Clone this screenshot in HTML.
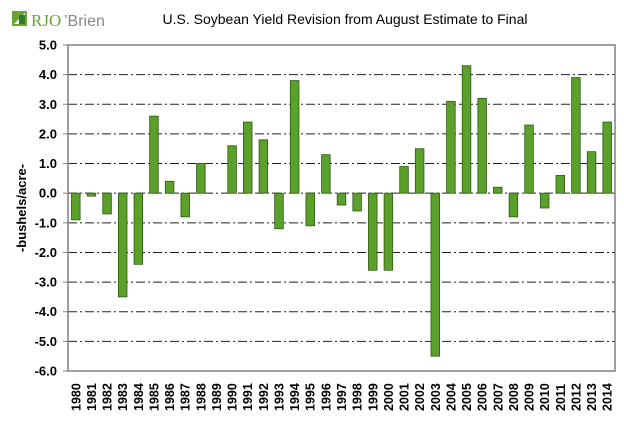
<!DOCTYPE html>
<html><head><meta charset="utf-8"><style>
body{margin:0;background:#fff;}
svg{display:block;font-family:"Liberation Sans",Arial,sans-serif;}
</style></head><body>
<svg id="c" width="624" height="426">
<g>
<rect x="12" y="11" width="15" height="15" fill="#6aa533"/>
<polygon points="14,24 25,13 25,24" fill="#fff"/>
<rect x="19" y="15" width="6" height="9" fill="#2f7a2f"/>
<text x="31" y="26" font-size="17" fill="#6aa533" font-family="Liberation Serif, serif">RJO</text>
<text x="64" y="26" font-size="16" fill="#888">’Brien</text>
</g>
<text x="345" y="24" font-size="14" text-anchor="middle" fill="#000">U.S. Soybean Yield Revision from August Estimate to Final</text>
<text transform="translate(26,208) rotate(-90)" font-size="13" font-weight="bold" text-anchor="middle">-bushels/acre-</text>
<g id="grid"></g><g id="bars"></g><g id="ylab"></g><g id="xlab"></g>
<rect x="68" y="45" width="547" height="326" fill="none" stroke="#808080" stroke-width="1.5"/>
</svg>
<script>
const years=[1980,1981,1982,1983,1984,1985,1986,1987,1988,1989,1990,1991,1992,1993,1994,1995,1996,1997,1998,1999,2000,2001,2002,2003,2004,2005,2006,2007,2008,2009,2010,2011,2012,2013,2014];
const revisions=[-0.9,-0.1,-0.7,-3.5,-2.4,2.6,0.4,-0.8,1.0,0,1.6,2.4,1.8,-1.2,3.8,-1.1,1.3,-0.4,-0.6,-2.6,-2.6,0.9,1.5,-5.5,3.1,4.3,3.2,0.2,-0.8,2.3,-0.5,0.6,3.9,1.4,2.4];
const yTicks=[5,4,3,2,1,0,-1,-2,-3,-4,-5,-6];
const L=68,R=615,T=45,B=371,ymax=5,ymin=-6;
const y=v=>T+(ymax-v)/(ymax-ymin)*(B-T);
const bw=(R-L)/years.length;
const x=i=>L+i*bw;
const NS="http://www.w3.org/2000/svg";
function mk(t,a,p){const e=document.createElementNS(NS,t);for(const k in a)e.setAttribute(k,a[k]);p.appendChild(e);return e;}
const g=document.getElementById('grid'),b=document.getElementById('bars'),yl=document.getElementById('ylab'),xl=document.getElementById('xlab');
yTicks.forEach(v=>{
 if(v!==ymax&&v!==ymin){const l=mk('line',{x1:L,x2:R,y1:y(v),y2:y(v),stroke:'#222','stroke-width':1,'stroke-dasharray':'9,3,2,3'},g);
 
 }
 const tk=mk('line',{x1:L-5,x2:L,y1:y(v),y2:y(v),stroke:'#808080'},g);
 
 
 const t=mk('text',{x:L-11,y:y(v)+4.5,'font-size':13,'font-weight':'bold','text-anchor':'end'},yl);
 t.textContent=v.toFixed(1);
 
 
});
years.forEach((yr,i)=>{
 const v=revisions[i];
 if(v!==0){const r=mk('rect',{x:x(i)+bw/2-4.3,width:8.6,y:Math.min(y(v),y(0)),height:Math.abs(y(v)-y(0)),fill:'#5ba02a',stroke:'#2d5a12','stroke-width':0.8},b);
 
 }
 const t=mk('text',{transform:`translate(${x(i)+bw/2+4.5},${B+40}) rotate(-90)`,'font-size':12.5,'font-weight':'bold'},xl);
 t.textContent=yr;
 
 
});
</script>
</body></html>
